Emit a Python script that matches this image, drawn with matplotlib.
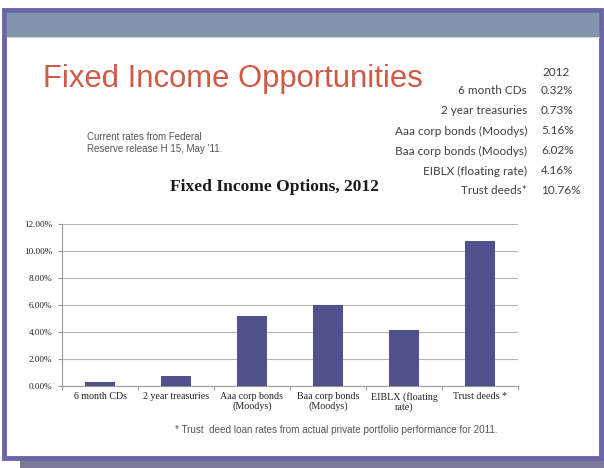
import matplotlib.pyplot as plt
from matplotlib.patches import Rectangle
import numpy as np

# rates for 2012
categories = ["6 month CDs", "2 year treasuries", "Aaa corp bonds\n(Moodys)",
              "Baa corp bonds\n(Moodys)", "EIBLX (floating\nrate)", "Trust deeds *"]
rates = [0.32, 0.73, 5.16, 6.02, 4.16, 10.76]
table_labels = ["6 month CDs", "2 year treasuries", "Aaa corp bonds (Moodys)",
                "Baa corp bonds (Moodys)", "EIBLX (floating rate)", "Trust deeds*"]
yticks = [0, 2, 4, 6, 8, 10, 12]

W, H = 604, 468
fig = plt.figure(figsize=(W / 100, H / 100), dpi=100)
fig.patch.set_facecolor("white")

# slide background in pixel coordinates
bg = fig.add_axes([0, 0, 1, 1])
bg.set_xlim(0, W)
bg.set_ylim(H, 0)
bg.axis("off")

bg.add_patch(Rectangle((20, 28), 590, 450, facecolor="#7b7997", edgecolor="none"))
bg.add_patch(Rectangle((4, 10), 597, 448, facecolor="white", edgecolor="#6a66a6", linewidth=3.5))
bg.add_patch(Rectangle((6.5, 13), 592, 24, facecolor="#8296ab", edgecolor="none"))
bg.plot([6.5, 598.5], [37, 37], color="#c9d6df", lw=0.8)

bg.text(43, 79, "Fixed Income Opportunities", fontsize=22.3, color="#cf5a45",
        family="Liberation Sans", va="center", ha="left")

bg.text(87, 143, "Current rates from Federal\nReserve release H 15, May \u201911.",
        fontsize=7, color="#555555", family="Liberation Sans", va="center",
        ha="left", linespacing=1.15)

# table of rates
bg.text(556, 72, "2012", fontsize=8.5, color="#404040", family="Lato",
        va="center", ha="center")
for i, (lab, val) in enumerate(zip(table_labels, rates)):
    y = 91 + i * 20
    bg.text(527, y, lab, fontsize=8.5, color="#404040", family="Lato",
            va="center", ha="right")
    bg.text(541, y, f"{val:.2f}%", fontsize=8.5, color="#404040", family="Lato",
            va="center", ha="left")

bg.text(274, 187, "Fixed Income Options, 2012", fontsize=12.6, fontweight="bold",
        family="Liberation Serif", color="#1a1a1a", va="center", ha="center")

bg.text(336, 430, "* Trust  deed loan rates from actual private portfolio performance for 2011.",
        fontsize=7.1, color="#555555", family="Liberation Sans", va="center", ha="center")

# bar chart
x0, x1, ytop, ybot = 62, 518, 224, 386
ax = fig.add_axes([x0 / W, (H - ybot) / H, (x1 - x0) / W, (ybot - ytop) / H])
ax.set_facecolor("none")
x = np.arange(len(categories))
ax.bar(x, rates, width=0.4, color="#50508c", zorder=3)
ax.set_xlim(-0.5, len(categories) - 0.5)
ax.set_ylim(0, 12)
ax.set_yticks(yticks)
ax.set_yticklabels([f"{v:.2f}%" for v in yticks], family="Liberation Serif",
                   fontsize=6.6, color="#222222")
ax.grid(axis="y", color="#b5b5b5", lw=0.8, zorder=0)
ax.set_xticks(np.arange(len(categories) + 1) - 0.5)
ax.set_xticklabels([])
ax.set_xticks(x, minor=True)
ax.set_xticklabels(categories, minor=True, family="Liberation Serif",
                   fontsize=7.2, color="#222222", linespacing=1.1)
ax.tick_params(axis="x", which="major", length=3, color="#999999")
ax.tick_params(axis="x", which="minor", length=0, pad=4)
ax.tick_params(axis="y", length=3, color="#999999", pad=4)
for s in ["top", "right"]:
    ax.spines[s].set_visible(False)
for s in ["left", "bottom"]:
    ax.spines[s].set_color("#999999")
    ax.spines[s].set_linewidth(0.8)

fig.savefig("out.png", dpi=100)
